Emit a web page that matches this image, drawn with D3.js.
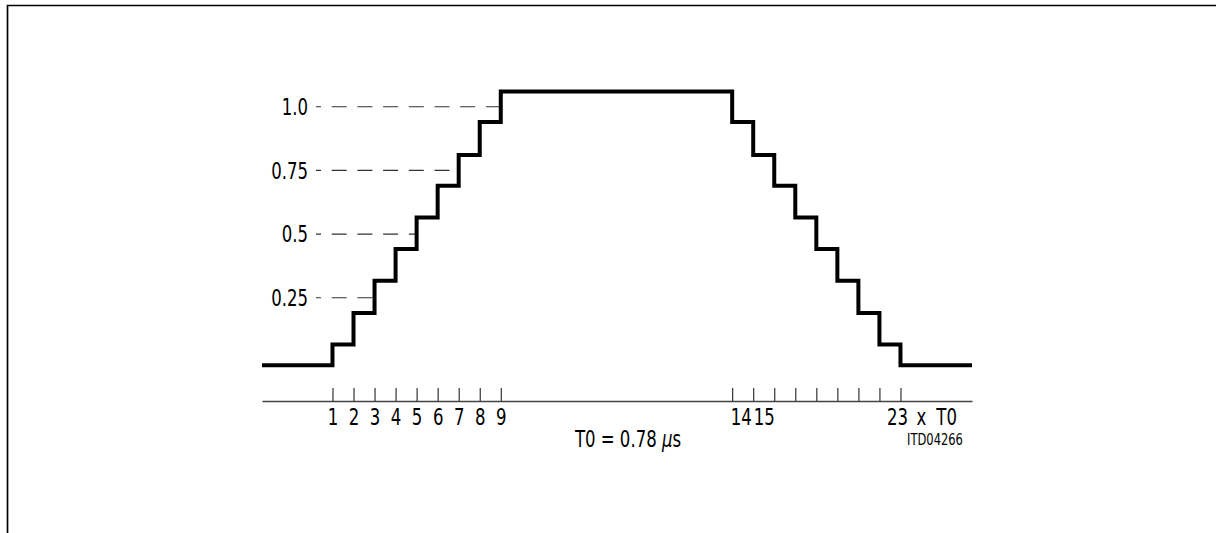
<!DOCTYPE html>
<html>
<head>
<meta charset="utf-8">
<script src="https://cdn.jsdelivr.net/npm/d3@7"></script>
<style>
  html, body { margin: 0; padding: 0; background: #fff; }
  svg text { font-family: 'Liberation Sans Narrow', 'DejaVu Sans Condensed', 'Arial Narrow', sans-serif; fill: #000; }
</style>
</head>
<body>
<div id="chart"></div>
<script>
// step positions in units of T0 (schematic: left ramp 1..9, right ramp drawn at 20..28)
const stepSlots = [-2.35, 1, 2, 3, 4, 5, 6, 7, 8, 9, 20, 21, 22, 23, 24, 25, 26, 27, 28, 31.4];
const stepLevels = [-0.015, 0.067, 0.19, 0.317, 0.442, 0.565, 0.69, 0.81, 0.94, 1.06,
  0.94, 0.81, 0.69, 0.565, 0.442, 0.317, 0.19, 0.067, -0.015, -0.015];

const tickSlots = [1, 2, 3, 4, 5, 6, 7, 8, 9, 20, 21, 22, 23, 24, 25, 26, 27, 28];
const tickLabels = ['1', '2', '3', '4', '5', '6', '7', '8', '9', '14', '15', '', '', '', '', '', '', '23'];

const refValues = [0.25, 0.5, 0.75, 1.0];
const refLabels = ['0.25', '0.5', '0.75', '1.0'];
const refEndSlots = [3, 5, 7, 9];

const width = 1225;
const height = 533;
const axisY = 401;
const narrow = 0.8; // squeeze text to look like the narrow drawing font

let svg = d3.select('#chart').append('svg')
  .attr('width', width)
  .attr('height', height)

// frame
svg.append('path')
  .attr('d', 'M7.5,' + height + 'V5.5H1216')
  .attr('fill', 'none')
  .attr('stroke', '#000')
  .attr('stroke-width', 1.7)

let x = d3.scaleLinear()
  .domain([-2.35, 31.4])
  .range([262, 972])

let y = d3.scaleLinear()
  .domain([0, 1])
  .range([361.5, 106.7])

// squeeze a text horizontally around its anchor x
let squeeze = (sel, ax) => sel.attr('transform', `translate(${ax},0) scale(${narrow},1) translate(${-ax},0)`)

// dashed reference lines with labels
refValues.forEach((v, i) => {
  svg.append('line')
    .attr('x1', 316)
    .attr('x2', x(refEndSlots[i]))
    .attr('y1', y(v))
    .attr('y2', y(v))
    .attr('stroke', '#333')
    .attr('stroke-width', 1.1)
    .attr('stroke-dasharray', '15,10.7')
    .attr('stroke-dashoffset', 10)

  svg.append('text')
    .attr('x', 308)
    .attr('y', y(v))
    .attr('dy', '0.36em')
    .attr('text-anchor', 'end')
    .style('font-size', '23px')
    .text(refLabels[i])
    .call(squeeze, 308)
})

// time axis
let axis = d3.axisBottom(x)
  .tickValues(tickSlots)
  .tickSize(-13)
  .tickSizeOuter(0)
  .tickPadding(8)
  .tickFormat((d, i) => tickLabels[i])

let ax = svg.append('g')
  .attr('transform', `translate(0,${axisY})`)
  .attr('font-family', null)
  .attr('font-size', null)
  .call(axis)

ax.select('.domain').attr('stroke', '#444').attr('stroke-width', 1.3)
ax.selectAll('.tick line').attr('stroke', '#222').attr('stroke-width', 1.1)
ax.selectAll('.tick text')
  .style('font-size', '23px')
  .attr('fill', '#000')
  .attr('text-anchor', (d, i) => tickLabels[i].length > 1 ? 'start' : 'middle')
  .attr('x', (d, i) => tickLabels[i] === '23' ? -14 : (tickLabels[i] === '14' ? -2 : 0))
  .each(function () {
    d3.select(this).call(squeeze, +this.getAttribute('x'))
  })

// unit suffix after the last tick label
svg.append('text')
  .attr('x', x(28) + 16)
  .attr('y', axisY + 8)
  .attr('dy', '0.71em')
  .style('font-size', '23px')
  .style('word-spacing', '6px')
  .text('x T0')
  .call(squeeze, x(28) + 16)

// the step waveform
let line = d3.line()
  .x((d, i) => x(stepSlots[i]))
  .y(d => y(d))
  .curve(d3.curveStepAfter)

svg.append('path')
  .datum(stepLevels)
  .attr('d', line)
  .attr('fill', 'none')
  .attr('stroke', '#000')
  .attr('stroke-width', 4)
  .attr('stroke-linejoin', 'miter')

let note = svg.append('text')
  .attr('x', 628)
  .attr('y', 447)
  .attr('text-anchor', 'middle')
  .style('font-size', '23px')
  .call(squeeze, 628)
note.append('tspan').text('T0 = 0.78 ')
note.append('tspan').style('font-style', 'italic').text('μ')
note.append('tspan').text('s')

svg.append('text')
  .attr('x', 935)
  .attr('y', 445)
  .attr('text-anchor', 'middle')
  .style('font-size', '16px')
  .text('ITD04266')
  .call(squeeze, 935)
</script>
</body>
</html>
